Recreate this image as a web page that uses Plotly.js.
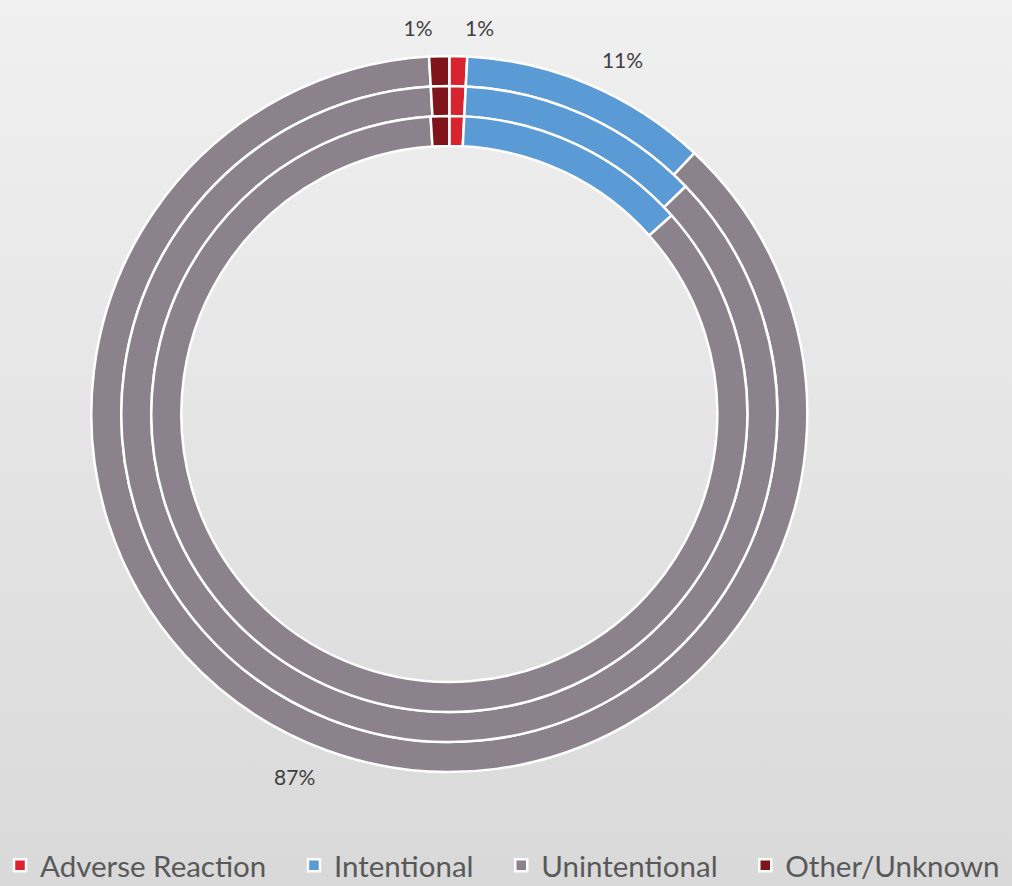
<!DOCTYPE html>
<html>
<head>
<meta charset="utf-8">
<script src="https://cdn.plot.ly/plotly-3.0.1.min.js"></script>
<style>
  html, body { margin: 0; padding: 0; }
  body { background: linear-gradient(#f0f0f0, #d9d9d9); }
  #plotDiv { width: 1012px; height: 886px; background: linear-gradient(#f0f0f0, #d9d9d9); }
</style>
</head>
<body>
<div id="plotDiv"></div>
<script>
var categories = ['Adverse Reaction', 'Intentional', 'Unintentional', 'Other/Unknown'];
var outerRing = [0.8, 11.2, 87.1, 0.9];
var middleRing = [0.8, 12.0, 86.3, 0.9];
var innerRing = [0.8, 12.6, 85.6, 1.0];

var colors = ['#d9232e', '#5b9bd5', '#8c828c', '#7f141b'];

// ring geometry (centre 449,414 px; radii 358 / 328 / 298 / 268)
var W = 1012, H = 886, cx = 449.3, cy = 414;
function dom(r) {
  return {x: [(cx - r) / W, (cx + r) / W], y: [1 - (cy + r) / H, 1 - (cy - r) / H]};
}

// a little padding after each legend entry, like the original legend spacing
var legendNames = categories.map(function (c, i) {
  return i < categories.length - 1 ? c + '\u00a0\u00a0\u00a0' : c;
});

function ring(vals, r, rIn) {
  return {
    type: 'pie',
    labels: legendNames,
    values: vals,
    sort: false,
    direction: 'clockwise',
    rotation: 0,
    hole: rIn / r,
    domain: dom(r),
    marker: {colors: colors, line: {color: '#ffffff', width: 2.5}},
    textinfo: 'none',
    hoverinfo: 'label+percent'
  };
}

// percentage labels of the outer ring, set a bit further out
var outerLabels = {
  type: 'pie',
  labels: legendNames,
  values: outerRing,
  sort: false,
  direction: 'clockwise',
  rotation: 0,
  hole: 0.97,
  domain: dom(374),
  marker: {colors: ['rgba(0,0,0,0)', 'rgba(0,0,0,0)', 'rgba(0,0,0,0)', 'rgba(0,0,0,0)'], line: {width: 0}},
  textposition: 'outside',
  texttemplate: '%{percent:.0%}',
  outsidetextfont: {family: 'Lato, sans-serif', size: 21, color: '#404040'},
  showlegend: false,
  hoverinfo: 'skip'
};

var plotData = [
  ring(outerRing, 358, 328),
  ring(middleRing, 328, 298),
  ring(innerRing, 298, 268),
  outerLabels
];

var layout = {
  width: W,
  height: H,
  margin: {l: 0, r: 0, t: 0, b: 0, autoexpand: false},
  paper_bgcolor: 'rgba(0,0,0,0)',
  plot_bgcolor: 'rgba(0,0,0,0)',
  showlegend: true,
  legend: {
    orientation: 'h',
    x: 0.0,
    xanchor: 'left',
    y: 0.023,
    yanchor: 'middle',
    font: {family: 'Lato, sans-serif', size: 29.5, color: '#595959'},
    bgcolor: 'rgba(0,0,0,0)'
  }
};

Plotly.newPlot('plotDiv', plotData, layout, {displayModeBar: false});
</script>
</body>
</html>
